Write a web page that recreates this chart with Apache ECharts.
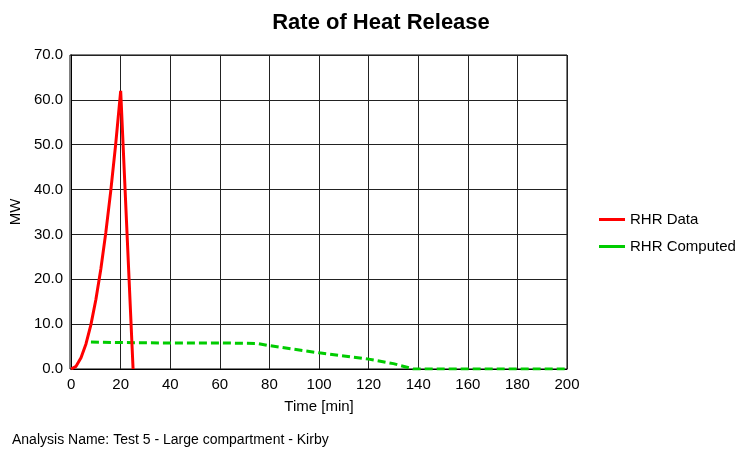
<!DOCTYPE html>
<html><head><meta charset="utf-8">
<script src="https://cdn.jsdelivr.net/npm/echarts@6/dist/echarts.min.js"></script>
<style>body{margin:0;background:#fff}#c{width:744px;height:456px}</style>
</head><body><div id="c"></div>
<script>
const dataTime = [0, 2, 4, 6, 8, 10, 12, 14, 16, 18, 20, 25];
const dataRhr = [0, 0.6, 2.5, 5.6, 9.9, 15.5, 22.3, 30.4, 39.7, 50.2, 62.0, 0];
const compTime = [8, 20, 40, 60, 75, 80, 90, 100, 110, 120, 130, 138, 160, 200];
const compRhr = [6.0, 5.9, 5.8, 5.8, 5.7, 5.2, 4.4, 3.6, 2.9, 2.2, 1.2, 0, 0, 0];

const chart = echarts.init(document.getElementById('c'));
chart.setOption({
  animation: false,
  title: { text: 'Rate of Heat Release', left: 376, top: 7, textAlign: 'center',
    textStyle: { fontFamily: 'Liberation Sans', fontSize: 22, fontWeight: 'bold', color: '#000' } },
  grid: { left: 70, top: 55, width: 497, height: 314 },
  legend: {
    orient: 'vertical', left: 594, top: 207, itemGap: 12, itemWidth: 26, itemHeight: 3,
    icon: 'rect',
    textStyle: { fontFamily: 'Liberation Sans', fontSize: 15, color: '#000' },
    data: ['RHR Data', 'RHR Computed']
  },
  xAxis: {
    type: 'value', min: 0, max: 200, interval: 20, name: 'Time [min]',
    nameLocation: 'middle', nameGap: 30,
    nameTextStyle: { fontFamily: 'Liberation Sans', fontSize: 15, color: '#000' },
    axisLine: { lineStyle: { color: '#000' } }, axisTick: { show: false },
    axisLabel: { fontFamily: 'Liberation Sans', fontSize: 15, color: '#000' },
    splitLine: { lineStyle: { color: '#222' } }
  },
  yAxis: {
    type: 'value', min: 0, max: 70, interval: 10, name: 'MW',
    nameLocation: 'middle', nameGap: 45,
    nameTextStyle: { fontFamily: 'Liberation Sans', fontSize: 15, color: '#000' },
    axisLine: { show: true, lineStyle: { color: '#000' } }, axisTick: { show: false },
    axisLabel: { fontFamily: 'Liberation Sans', fontSize: 15, color: '#000', formatter: v => v.toFixed(1) },
    splitLine: { lineStyle: { color: '#222' } }
  },
  graphic: [
    { type: 'rect', shape: { x: 70, y: 55, width: 497, height: 314 }, style: { fill: 'none', stroke: '#000', lineWidth: 1 } },
    { type: 'text', left: 12, top: 433, style: { text: 'Analysis Name: Test 5 - Large compartment - Kirby',
      fontFamily: 'Liberation Sans', fontSize: 14, fill: '#000' } }
  ],
  series: [
    { name: 'RHR Data', type: 'line', showSymbol: false, z: 3,
      itemStyle: { color: '#ff0000' }, lineStyle: { color: '#ff0000', width: 3 },
      data: dataTime.map((t, i) => [t, dataRhr[i]]) },
    { name: 'RHR Computed', type: 'line', showSymbol: false, z: 2,
      itemStyle: { color: '#00cc00' }, lineStyle: { color: '#00cc00', width: 3, type: [8, 4] },
      data: compTime.map((t, i) => [t, compRhr[i]]) }
  ]
});
</script></body></html>
